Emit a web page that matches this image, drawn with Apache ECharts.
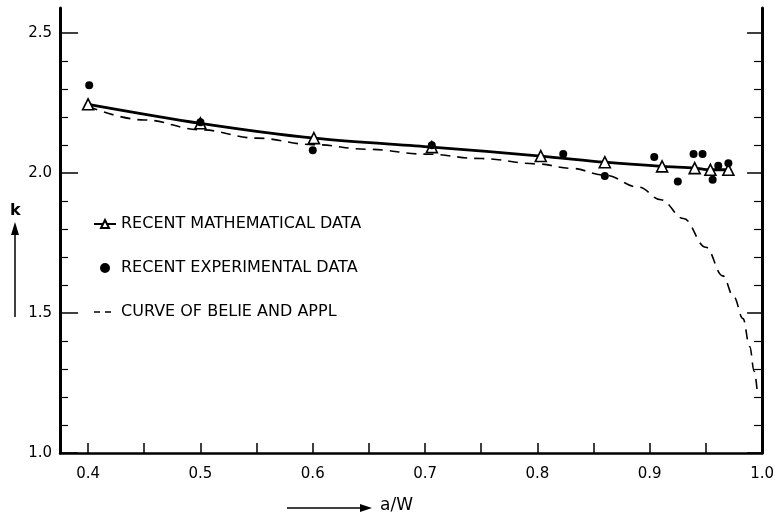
<!DOCTYPE html>
<html>
<head>
<meta charset="utf-8">
<script src="https://cdn.jsdelivr.net/npm/echarts@6/dist/echarts.min.js"></script>
<style>html,body{margin:0;padding:0;background:#fff;}#c{width:777px;height:521px;}</style>
</head>
<body>
<div id="c"></div>
<script>
// Recent mathematical data (triangles, solid line)
const mathX = [0.4, 0.5, 0.601, 0.706, 0.803, 0.86, 0.911, 0.94, 0.954, 0.97];
const mathK = [2.246, 2.178, 2.125, 2.093, 2.061, 2.039, 2.024, 2.018, 2.012, 2.012];
// Recent experimental data (dots)
const expX = [0.401, 0.5, 0.6, 0.706, 0.823, 0.86, 0.904, 0.925, 0.939, 0.947, 0.956, 0.961, 0.97];
const expK = [2.314, 2.182, 2.082, 2.100, 2.068, 1.990, 2.058, 1.970, 2.068, 2.068, 1.976, 2.026, 2.035];
// Curve of Belie and Appl (dashed)
const belieX = [0.4, 0.45, 0.5, 0.55, 0.6, 0.65, 0.7, 0.75, 0.8, 0.83, 0.86, 0.89, 0.91, 0.93, 0.95, 0.965, 0.975, 0.983, 0.989, 0.993, 0.996];
const belieK = [2.238, 2.19, 2.155, 2.125, 2.102, 2.085, 2.068, 2.052, 2.033, 2.017, 1.993, 1.950, 1.905, 1.838, 1.735, 1.633, 1.557, 1.480, 1.380, 1.292, 1.205];

const xTicks = [0.4, 0.45, 0.5, 0.55, 0.6, 0.65, 0.7, 0.75, 0.8, 0.85, 0.9, 0.95, 1.0];
const xLabels = [0.4, 0.5, 0.6, 0.7, 0.8, 0.9, 1.0];
const yMajor = [1.0, 1.5, 2.0, 2.5];
const yMinor = [1.1, 1.2, 1.3, 1.4, 1.6, 1.7, 1.8, 1.9, 2.1, 2.2, 2.3, 2.4];
const names = ['RECENT MATHEMATICAL DATA', 'RECENT EXPERIMENTAL DATA', 'CURVE OF BELIE AND APPL'];

const FONT = 'DejaVu Sans';
const zip = (a, b) => a.map((v, i) => [v, b[i]]);

const chart = echarts.init(document.getElementById('c'), null, {renderer: 'canvas'});
const yBase = {type: 'value', min: 1.0, max: 2.59, splitLine: {show: false}};
chart.setOption({
  animation: false,
  backgroundColor: '#fff',
  textStyle: {fontFamily: FONT, color: '#000'},
  grid: {left: 60, right: 12, top: 8, bottom: 68},
  xAxis: {
    type: 'value', min: 0.375, max: 1.0,
    axisLine: {lineStyle: {color: '#000', width: 2.5}},
    axisTick: {inside: true, length: 10, customValues: xTicks, lineStyle: {color: '#000', width: 1.5}},
    axisLabel: {customValues: xLabels, formatter: v => v.toFixed(1), color: '#000', fontSize: 15, fontFamily: FONT, margin: 14},
    splitLine: {show: false}
  },
  yAxis: [
    Object.assign({}, yBase, {position: 'left',
      axisLine: {show: true, lineStyle: {color: '#000', width: 3}},
      axisTick: {inside: true, length: 18, customValues: yMajor, lineStyle: {color: '#000', width: 1.5}},
      axisLabel: {customValues: yMajor, formatter: v => v.toFixed(1), color: '#000', fontSize: 15, fontFamily: FONT, margin: 8}}),
    Object.assign({}, yBase, {position: 'left',
      axisLine: {show: false},
      axisTick: {inside: true, length: 8, customValues: yMinor, lineStyle: {color: '#000', width: 1.2}},
      axisLabel: {show: false}}),
    Object.assign({}, yBase, {position: 'right',
      axisLine: {show: true, lineStyle: {color: '#000', width: 3}},
      axisTick: {inside: true, length: 15, customValues: yMajor, lineStyle: {color: '#000', width: 1.5}},
      axisLabel: {show: false}}),
    Object.assign({}, yBase, {position: 'right',
      axisLine: {show: false},
      axisTick: {inside: true, length: 8, customValues: yMinor, lineStyle: {color: '#000', width: 1.2}},
      axisLabel: {show: false}})
  ],
  legend: {
    orient: 'vertical', left: 88, top: 211, itemGap: 28, itemWidth: 22, itemHeight: 10,
    textStyle: {fontFamily: FONT, fontSize: 16, color: '#000'},
    data: [
      {name: names[0]},
      {name: names[1], itemStyle: {color: '#000', opacity: 1}},
      {name: names[2], itemStyle: {opacity: 0}, lineStyle: {color: '#000', width: 1.5, type: [6, 5]}}
    ]
  },
  series: [
    {
      name: names[2], type: 'line', data: zip(belieX, belieK), smooth: 0.4, smoothMonotone: 'x',
      showSymbol: false, symbol: 'none', z: 1,
      itemStyle: {color: '#000'},
      lineStyle: {color: '#000', width: 1.6, type: [10, 7]}
    },
    {
      name: names[0], type: 'line', data: zip(mathX, mathK), smooth: 0.3, z: 2,
      symbol: 'triangle', symbolSize: 11,
      lineStyle: {color: '#000', width: 2.8},
      itemStyle: {color: '#fff', borderColor: '#000', borderWidth: 1.6}
    },
    {
      name: names[1], type: 'scatter', data: zip(expX, expK), z: 3,
      symbol: 'circle', symbolSize: 8,
      itemStyle: {color: '#000', opacity: 1}
    }
  ],
  graphic: [
    {type: 'text', left: 10, top: 203, style: {text: 'k', font: 'bold 16px "DejaVu Sans"', fill: '#000'}},
    {type: 'line', shape: {x1: 15, y1: 317, x2: 15, y2: 232}, style: {stroke: '#000', lineWidth: 1.5}},
    {type: 'polygon', shape: {points: [[11, 235], [19, 235], [15, 222]]}, style: {fill: '#000'}},
    {type: 'line', shape: {x1: 287, y1: 508, x2: 364, y2: 508}, style: {stroke: '#000', lineWidth: 1.5}},
    {type: 'polygon', shape: {points: [[360, 504], [360, 512], [372, 508]]}, style: {fill: '#000'}},
    {type: 'text', left: 380, top: 497, style: {text: 'a/W', font: '17px "DejaVu Sans"', fill: '#000'}}
  ]
});
</script>
</body>
</html>
